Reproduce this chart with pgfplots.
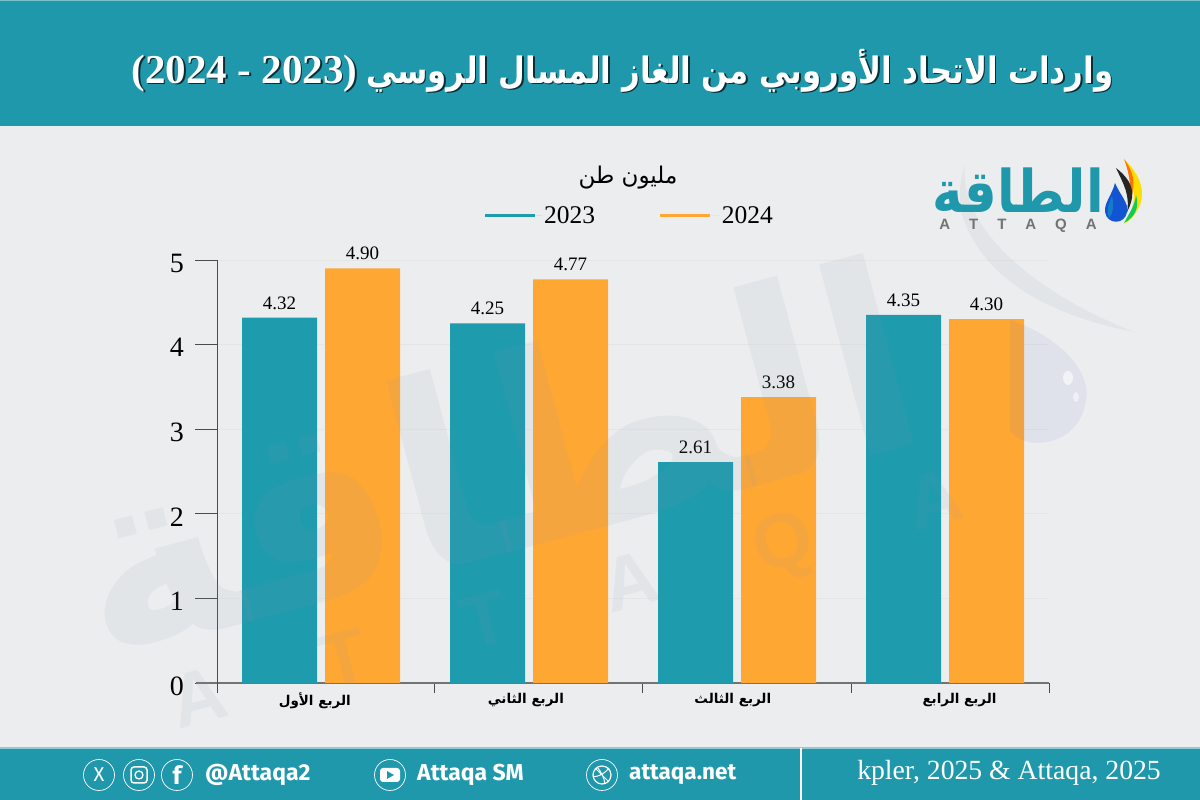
\documentclass[border=0pt]{standalone}
\usepackage{fontspec}
\usepackage{pgfplots}
\pgfplotsset{compat=1.18}
\TeXXeTstate=1
\setmainfont{Liberation Serif}
\newfontfamily\arab[Script=Arabic]{DejaVu Sans}
\newfontfamily\fira{Fira Sans}
\newfontfamily\lsans{Liberation Sans}
\definecolor{teal1}{HTML}{2098AC}
\definecolor{bar1}{HTML}{1F9BAE}
\definecolor{bar2}{HTML}{FFA733}
\definecolor{bgc}{HTML}{ECEDEF}
\definecolor{wm}{HTML}{8899AA}
\newcommand{\titletext}{{\fontsize{41}{41}\selectfont\rmfamily\bfseries (2024 - 2023)}\hspace{9pt}\scalebox{.935}[1.1]{\fontsize{33}{33}\selectfont\arab\bfseries\beginR واردات الاتحاد الأوروبي من الغاز المسال الروسي\endR}}
\begin{document}
\begin{tikzpicture}[x=1pt,y=1pt]
\useasboundingbox (0,0) rectangle (1200pt,800pt);
\begin{scope}[yshift=800pt,x=1pt,y=-1pt]
\fill[bgc] (0,0) rectangle (1200,800);
% header
\fill[teal1] (0,0) rectangle (1200,126);
\fill[teal1!60!white] (0,0) rectangle (1200,1.5);
\node[text=black!70!teal1,inner sep=0] at (624,72) {\titletext};
\node[text=white,inner sep=0] at (622.5,70.5) {\titletext};
% footer
\fill[teal1] (0,748) rectangle (1200,800);
\fill[teal1!50!white] (0,747) rectangle (1200,749);
\fill[white] (799.5,748) rectangle (802,800);
\foreach \cx in {99,139,177,390,602} \draw[white,line width=.7pt] (\cx,775) circle (15.5);
\node[white,inner sep=0] at (99,775) {\fontsize{20}{20}\selectfont\fira X};
\draw[white,line width=1.5pt,rounded corners=3pt] (131,767) rectangle (147,783);
\draw[white,line width=1.3pt] (139,775) circle (4);
\node[white,inner sep=0] at (177,775) {\fontsize{25}{25}\selectfont\fira\bfseries f};
\fill[white,rounded corners=3pt] (380,768) rectangle (400,782);
\fill[teal1] (387,771) -- (394,775) -- (387,779) -- cycle;
\draw[white,line width=1.2pt] (602,775) circle (9);
\draw[white,line width=1pt] (595,768) -- (609,782) (609,768) .. controls (604,774) and (600,776) .. (593,777) (597,767) .. controls (602,773) and (604,778) .. (605,784);
\node[white,inner sep=0,anchor=west] at (205,775) {\fontsize{23}{23}\selectfont\fira\bfseries @Attaqa2};
\node[white,inner sep=0,anchor=west] at (417,775) {\fontsize{23}{23}\selectfont\fira\bfseries Attaqa SM};
\node[white,inner sep=0,anchor=west] at (629,775) {\fontsize{22.5}{22.5}\selectfont\fira\bfseries attaqa.net};
\node[white,inner sep=0,anchor=east] at (1161,773) {\fontsize{27.7}{27.7}\selectfont kpler, 2025 \& Attaqa, 2025};
\end{scope}
\begin{axis}[
  at={(217pt,117pt)},anchor=south west,
  scale only axis,width=832pt,height=423pt,
  xmin=-0.5,xmax=3.5,ymin=0,ymax=5,
  ybar,bar width=75pt,
  axis x line=bottom,axis y line=left,
  axis line style={-},
  x axis line style={draw=black!55,line width=2pt},
  y axis line style={draw=black!70,line width=.7pt},
  xtick={-0.03,0.985,1.98,3.07},
  xticklabels={
    {\arab\bfseries\beginR الربع الأول\endR},
    {\arab\bfseries\beginR الربع الثاني\endR},
    {\arab\bfseries\beginR الربع الثالث\endR},
    {\arab\bfseries\beginR الربع الرابع\endR}},
  minor xtick={-0.5,0.543,1.543,2.548,3.5},
  major x tick style={draw=none},
  minor x tick style={draw=black!70,line width=.7pt},
  minor tick length=10pt,
  ytick={0,1,2,3,4,5},
  tick align=outside,
  major tick length=22pt,
  ytick style={draw=black!70,line width=.7pt},
  xticklabel style={font=\fontsize{13.5}{13.5}\selectfont,inner sep=0pt,yshift=12pt},
  yticklabel style={font=\fontsize{28}{28}\selectfont,/pgf/number format/assume math mode=true,inner sep=0pt,xshift=-11pt,yshift=-3pt},
  ymajorgrids,
  grid style={draw=black!10,line width=.6pt},
  nodes near coords,
  nodes near coords style={font=\fontsize{19}{19}\selectfont,text=black,inner sep=0pt,yshift=8pt,
    /pgf/number format/fixed,/pgf/number format/fixed zerofill,/pgf/number format/precision=2,/pgf/number format/assume math mode=true},
  legend style={at={(0.5,1)},anchor=south,yshift=31pt,xshift=-4pt,draw=none,fill=none,legend columns=2,font=\fontsize{25.5}{25.5}\selectfont,
    /tikz/every even column/.append style={column sep=61pt}},
]
\addplot[fill=bar1,draw=none,bar shift=-41.5pt,legend image code/.code={\draw[bar1,line width=3.5pt] (0pt,0pt) -- (50pt,0pt);\path (50pt,0pt) -- (57pt,0pt);}] coordinates {(0,4.32) (1,4.25) (2,2.61) (3,4.35)};
\addlegendentry{2023}
\addplot[fill=bar2,draw=none,bar shift=41.5pt,legend image code/.code={\draw[bar2,line width=3.5pt] (0pt,0pt) -- (50pt,0pt);\path (50pt,0pt) -- (60pt,0pt);}] coordinates {(0,4.90) (1,4.77) (2,3.38) (3,4.30)};
\addlegendentry{2024}
\end{axis}
\begin{scope}[yshift=800pt,x=1pt,y=-1pt]
\draw[black!55,line width=2pt] (196,683) -- (217,683);
\draw[black!70,line width=.7pt] (217,683) -- (217,693);
\node[inner sep=0] at (628,178) {\fontsize{23}{23}\selectfont\arab\beginR مليون طن\endR};
% watermark
\begin{scope}[opacity=.09]
\node[rotate=15,wm,inner sep=0] at (492,455) {\fontsize{260}{260}\selectfont\arab\bfseries\beginR الطاقة\endR};
\node[rotate=15,wm,inner sep=0] at (568,605) {\fontsize{76}{76}\selectfont\lsans\bfseries A\hspace{100pt}T\hspace{100pt}T\hspace{100pt}A\hspace{100pt}Q\hspace{100pt}A};
\fill[wm] (965,165) .. controls (958,235) and (1050,300) .. (1135,332) .. controls (1060,318) and (985,285) .. (962,215) .. controls (958,195) and (960,178) .. cycle;
\fill[blue!30!wm] (1010,320) .. controls (1055,335) and (1095,370) .. (1085,405) .. controls (1075,450) and (1020,450) .. (1010,430) -- cycle;
\end{scope}
\fill[white,opacity=.6] (1068,378) ellipse (5 and 7);
\fill[white,opacity=.5] (1076,397) ellipse (3 and 5);
% logo
\node[teal1,inner sep=0] at (1018,190) {\scalebox{.92}[1.05]{\fontsize{56}{56}\selectfont\arab\bfseries\beginR الطاقة\endR}};
\node[black!55,inner sep=0] at (1018,226) {\fontsize{15}{15}\selectfont\lsans\bfseries A\hspace{19pt}T\hspace{19pt}T\hspace{19pt}A\hspace{19pt}Q\hspace{19pt}A};
\fill[yellow!80!orange] (1125,160) .. controls (1150,185) and (1145,208) .. (1126,223) .. controls (1136,205) and (1138,185) .. cycle;
\fill[green!50!teal1] (1136,195) .. controls (1140,208) and (1134,218) .. (1124,223) .. controls (1130,212) and (1135,205) .. cycle;
\fill[orange!90!red] (1124,159) .. controls (1136,175) and (1136,190) .. (1128,205) .. controls (1132,190) and (1130,175) .. cycle;
\fill[black!85] (1116,168) .. controls (1134,182) and (1136,195) .. (1127,212) .. controls (1130,195) and (1124,185) .. cycle;
\fill[blue!45!teal1] (1115,183) .. controls (1120,195) and (1129,203) .. (1127,212) .. controls (1125,225) and (1107,225) .. (1105,212) .. controls (1104,203) and (1112,195) .. cycle;
\fill[cyan!60!blue] (1112,196) .. controls (1108,205) and (1106,212) .. (1109,218) .. controls (1114,212) and (1114,205) .. cycle;
\end{scope}
\end{tikzpicture}
\end{document}
